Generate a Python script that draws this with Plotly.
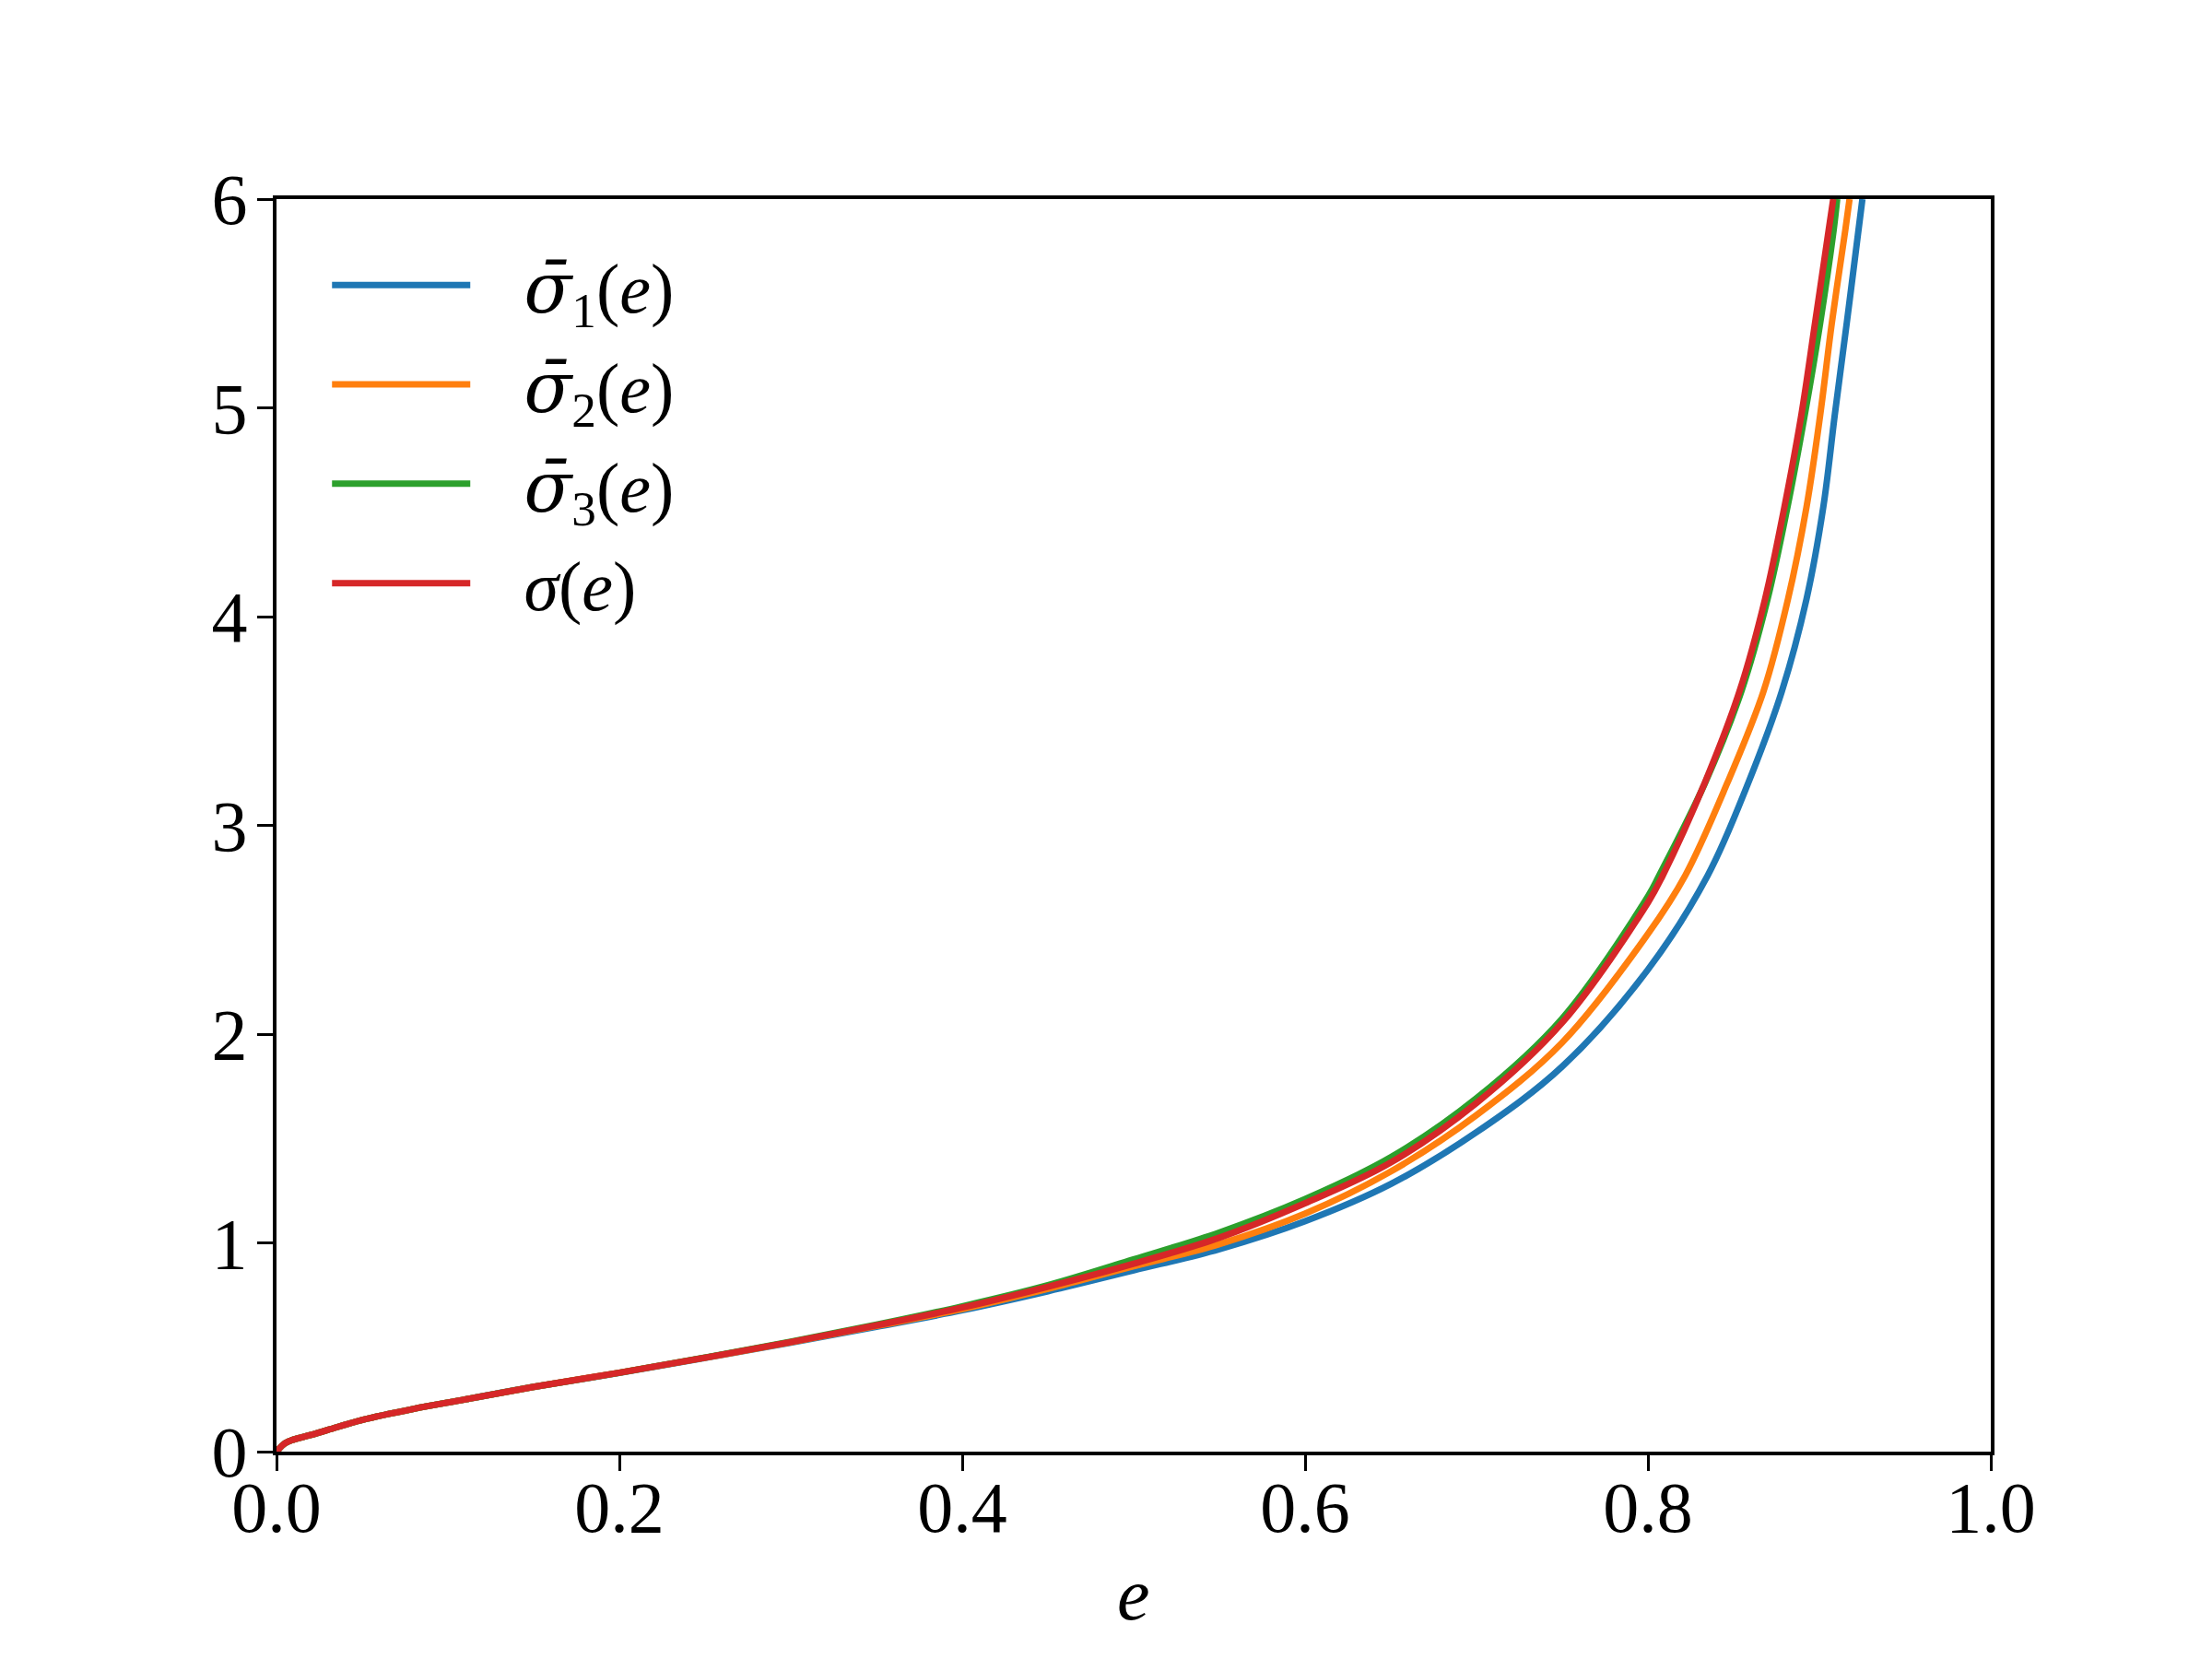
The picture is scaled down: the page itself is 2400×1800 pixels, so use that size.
import plotly.graph_objects as go

e_s1 = [0, 0.005, 0.01, 0.02, 0.03, 0.05, 0.08, 0.11, 0.15, 0.2, 0.25, 0.3, 0.35, 0.4, 0.45, 0.5,
        0.55, 0.6, 0.65, 0.7, 0.75, 0.8, 0.8348, 0.8584, 0.8781, 0.8925, 0.9023, 0.909, 0.916, 0.9228, 0.9251]
s1 = [0, 0.04, 0.058, 0.08, 0.104, 0.152, 0.205, 0.25, 0.31, 0.377, 0.449, 0.522, 0.598, 0.677, 0.768, 0.868,
      0.97, 1.104, 1.282, 1.53, 1.845, 2.309, 2.759, 3.201, 3.642, 4.084, 4.525, 4.967, 5.408, 5.85, 6.0]

e_s2 = [0, 0.005, 0.01, 0.02, 0.03, 0.05, 0.08, 0.11, 0.15, 0.2, 0.25, 0.3, 0.35, 0.4, 0.45, 0.5,
        0.55, 0.6, 0.65, 0.7, 0.75, 0.8, 0.8217, 0.8462, 0.8674, 0.8817, 0.8925, 0.9005, 0.9073, 0.9151, 0.9176]
s2 = [0, 0.04, 0.058, 0.08, 0.104, 0.152, 0.205, 0.25, 0.31, 0.378, 0.45, 0.524, 0.602, 0.683, 0.78, 0.888,
      0.994, 1.14, 1.342, 1.612, 1.96, 2.48, 2.759, 3.201, 3.642, 4.084, 4.525, 4.967, 5.408, 5.85, 6.0]

e_s3 = [0, 0.005, 0.01, 0.02, 0.03, 0.05, 0.08, 0.11, 0.15, 0.2, 0.25, 0.3, 0.35, 0.4, 0.45, 0.5,
        0.55, 0.6, 0.65, 0.7, 0.75, 0.8, 0.8065, 0.8332, 0.8545, 0.8698, 0.8814, 0.8915, 0.9005, 0.9083, 0.9104]
s3 = [0, 0.04, 0.058, 0.08, 0.104, 0.152, 0.205, 0.25, 0.31, 0.378, 0.451, 0.527, 0.608, 0.696, 0.797, 0.921,
      1.05, 1.21, 1.41, 1.693, 2.075, 2.66, 2.759, 3.201, 3.642, 4.084, 4.525, 4.967, 5.408, 5.85, 6.0]

e_sig = [0, 0.005, 0.01, 0.02, 0.03, 0.05, 0.08, 0.11, 0.15, 0.2, 0.25, 0.3, 0.35, 0.4, 0.45, 0.5,
         0.55, 0.6, 0.65, 0.7, 0.75, 0.8, 0.8086, 0.833, 0.8534, 0.8683, 0.8796, 0.8895, 0.8975, 0.9054, 0.9081]
sig = [0, 0.04, 0.058, 0.08, 0.104, 0.152, 0.205, 0.25, 0.31, 0.378, 0.45, 0.525, 0.605, 0.69, 0.79, 0.9,
       1.025, 1.19, 1.385, 1.67, 2.055, 2.63, 2.759, 3.201, 3.642, 4.084, 4.525, 4.967, 5.408, 5.85, 6.0]

pad = '\u2002\u2009'
sbar = '<span style="font-family:DejaVu Serif;font-style:italic">σ̄</span>'
names = [pad + sbar + '<sub>1</sub>(<i>e</i>)', pad + sbar + '<sub>2</sub>(<i>e</i>)',
         pad + sbar + '<sub>3</sub>(<i>e</i>)', pad + '<i>σ</i>(<i>e</i>)']
colors = ['#1f77b4', '#ff7f0e', '#2ca02c', '#d62728']

x_ticks = [0.0, 0.2, 0.4, 0.6, 0.8, 1.0]
y_ticks = [0, 1, 2, 3, 4, 5, 6]

FONT = 'Liberation Serif'

fig = go.Figure()
for i, (xs, ys, nm, c) in enumerate(zip([e_s1, e_s2, e_s3, e_sig], [s1, s2, s3, sig], names, colors)):
    fig.add_trace(go.Scatter(x=xs, y=ys, mode='lines', name=nm, legendgroup=f'g{i}',
                             line=dict(color=c, width=7, shape='spline', smoothing=1.0)))

axis_common = dict(showline=True, linecolor='black', linewidth=4, mirror=True,
                   showgrid=False, zeroline=False, ticks='outside', ticklen=17,
                   tickwidth=3, tickcolor='black',
                   tickfont=dict(family=FONT, size=78, color='black'))

fig.update_xaxes(range=[0, 1], tickvals=x_ticks, tickformat='.1f', ticklabelstandoff=-28,
                 **axis_common)
fig.update_yaxes(range=[0, 6], tickvals=y_ticks, ticklabelstandoff=-5, **axis_common)

# x-axis label placed as an annotation so it can sit closer to the tick labels
fig.add_annotation(text='<i>e</i>', x=0.5, y=-0.114, xref='paper', yref='paper',
                   xanchor='center', yanchor='middle', showarrow=False,
                   font=dict(family=FONT, size=80, color='black'))

# the page body adds an 8px offset, so the margins are shifted to compensate
fig.update_layout(
    width=2400, height=1800,
    margin=dict(l=292, r=248, t=208, b=233),
    plot_bgcolor='white', paper_bgcolor='white',
    font=dict(family=FONT, color='black'),
    legend=dict(x=0.0297, y=0.9725, xanchor='left', yanchor='top',
                bgcolor='rgba(0,0,0,0)', itemwidth=150,
                font=dict(family=FONT, size=76, color='black'),
                tracegroupgap=6),
)

fig.write_html('out.html')
